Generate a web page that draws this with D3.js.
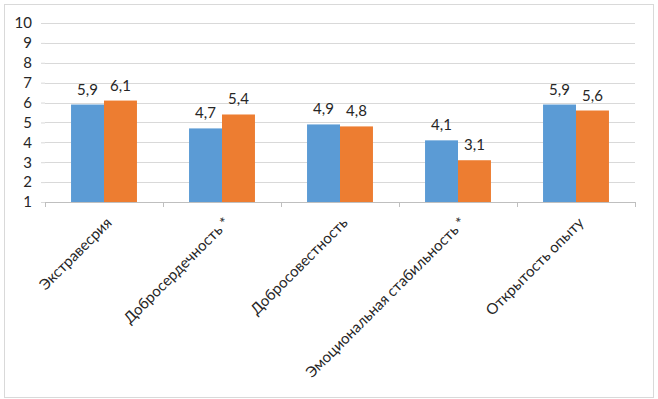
<!DOCTYPE html>
<html>
<head>
<meta charset="utf-8">
<script src="https://cdn.jsdelivr.net/npm/d3@7"></script>
<style>
  body { margin: 0; background: #fff; }
  text { font-family: Lato, "Open Sans", sans-serif; fill: #262626; }
</style>
</head>
<body>
<div id="chart"></div>
<script>
// data
const categories = ['Экстравесрия', 'Добросердечность *', 'Добросовестность', 'Эмоциональная стабильность *', 'Открытость опыту'];
const seriesNames = ['s1', 's2'];
const blueValues = [5.9, 4.7, 4.9, 4.1, 5.9];
const orangeValues = [6.1, 5.4, 4.8, 3.1, 5.6];
const valueLabels = [['5,9', '4,7', '4,9', '4,1', '5,9'], ['6,1', '5,4', '4,8', '3,1', '5,6']];
const yTicks = [1, 2, 3, 4, 5, 6, 7, 8, 9, 10];

const colors = ['#5b9bd5', '#ed7d31'];
const width = 658, height = 399;
const plot = { left: 45, right: 635, top: 23, bottom: 202 };

const svg = d3.select('#chart')
  .append('svg')
  .attr('width', width)
  .attr('height', height);

// outer frame
svg.append('rect')
  .attr('x', 4.5).attr('y', 4.5)
  .attr('width', 649).attr('height', 393)
  .attr('fill', '#fff')
  .attr('stroke', '#d9d9d9');

const y = d3.scaleLinear()
  .domain([1, 10])
  .range([plot.bottom, plot.top]);

const x0 = d3.scaleBand()
  .domain(categories)
  .range([plot.left, plot.right]);

const x1 = d3.scaleBand()
  .domain(seriesNames)
  .range([0, x0.bandwidth()])
  .paddingOuter(0.79);

// gridlines + y labels
const yAxis = svg.append('g')
  .attr('transform', `translate(${plot.left}, 0)`)
  .call(d3.axisLeft(y)
    .tickValues(yTicks)
    .tickSize(4)
    .tickPadding(9)
    .tickFormat(d3.format('d')));
yAxis.select('.domain').remove();
yAxis.selectAll('.tick line').attr('stroke', '#d9d9d9');
yAxis.selectAll('.tick text')
  .style('font-size', '15px')
  .attr('fill', '#262626');

svg.append('g')
  .selectAll('line')
  .data(yTicks.filter(d => d > 1))
  .join('line')
  .attr('x1', plot.left)
  .attr('x2', plot.right)
  .attr('y1', d => Math.round(y(d)) + 0.5)
  .attr('y2', d => Math.round(y(d)) + 0.5)
  .attr('stroke', '#d9d9d9');

// bars
const data = categories.map((c, i) => ({ cat: c, vals: [blueValues[i], orangeValues[i]] }));

const groups = svg.append('g')
  .selectAll('g')
  .data(data)
  .join('g')
  .attr('transform', d => `translate(${x0(d.cat)}, 0)`);

groups.selectAll('rect')
  .data(d => d.vals.map((v, j) => ({ key: seriesNames[j], v, j })))
  .join('rect')
  .attr('x', d => x1(d.key))
  .attr('y', d => y(d.v))
  .attr('width', x1.bandwidth())
  .attr('height', d => y(1) - y(d.v))
  .attr('fill', d => colors[d.j]);

// value labels
groups.selectAll('text.val')
  .data((d, i) => d.vals.map((v, j) => ({ key: seriesNames[j], v, label: valueLabels[j][i] })))
  .join('text')
  .attr('class', 'val')
  .attr('x', d => x1(d.key) + x1.bandwidth() / 2)
  .attr('y', d => y(d.v) - 10)
  .attr('text-anchor', 'middle')
  .style('font-size', '15px')
  .text(d => d.label);

// x axis
const xAxis = svg.append('g')
  .attr('transform', `translate(0, ${plot.bottom})`);
xAxis.append('line')
  .attr('x1', plot.left).attr('x2', plot.right)
  .attr('y1', 0.5).attr('y2', 0.5)
  .attr('stroke', '#bfbfbf');
xAxis.selectAll('line.tick')
  .data(categories.concat(['end']))
  .join('line')
  .attr('class', 'tick')
  .attr('x1', (d, i) => Math.round(plot.left + i * x0.step()) + 0.5)
  .attr('x2', (d, i) => Math.round(plot.left + i * x0.step()) + 0.5)
  .attr('y1', 0)
  .attr('y2', 5)
  .attr('stroke', '#bfbfbf');

xAxis.selectAll('text.cat')
  .data(categories)
  .join('text')
  .attr('class', 'cat')
  .attr('transform', d => `translate(${x0(d) + x0.bandwidth() / 2 + 5}, 18) rotate(-45)`)
  .attr('text-anchor', 'end')
  .attr('dy', '0.35em')
  .style('font-size', '15px')
  .text(d => d);
</script>
</body>
</html>
